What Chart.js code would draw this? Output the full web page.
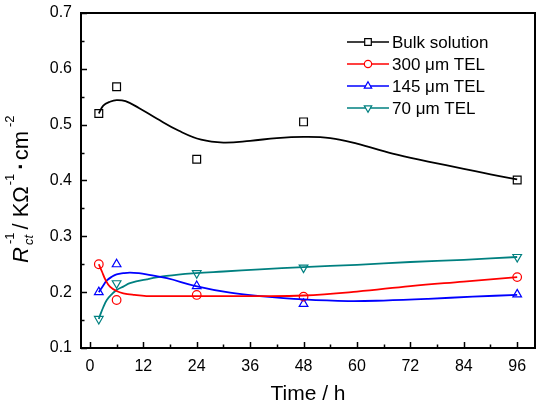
<!DOCTYPE html>
<html>
<head>
<meta charset="utf-8">
<script src="https://cdn.jsdelivr.net/npm/chart.js@4.4.0/dist/chart.umd.min.js"></script>
<style>
  html, body { margin: 0; padding: 0; background: #fff; }
  #wrap { width: 544px; height: 402px; }
</style>
</head>
<body>
<div id="wrap"><canvas id="chart"></canvas></div>
<script>
// measured points
var timeH      = [2, 6, 24, 48, 96];
var bulkVals   = [0.52, 0.568, 0.438, 0.505, 0.401];
var tel300Vals = [0.25, 0.186, 0.195, 0.192, 0.227];
var tel145Vals = [0.20, 0.25, 0.211, 0.179, 0.196];
var tel70Vals  = [0.152, 0.216, 0.234, 0.244, 0.263];

// fitted curves
var bulkFitX   = [2, 3, 4.5, 6, 8, 11, 15, 20, 25, 30, 36, 42, 48, 54, 60, 68, 76, 84, 90, 96];
var bulkFitY   = [0.52, 0.534, 0.541, 0.544, 0.542, 0.53, 0.511, 0.489, 0.473, 0.468, 0.471, 0.476, 0.478, 0.476, 0.466, 0.448, 0.434, 0.421, 0.411, 0.402];
var tel300FitX = [2, 2.7, 3.5, 4.5, 6, 7.5, 10, 12.7, 18, 24, 36, 48, 60, 72, 84, 96];
var tel300FitY = [0.25, 0.237, 0.222, 0.21, 0.202, 0.198, 0.195, 0.193, 0.193, 0.193, 0.193, 0.194, 0.201, 0.211, 0.219, 0.227];
var tel145FitX = [2, 3, 3.8, 5, 6, 7.5, 9, 11, 12.7, 17.3, 23.8, 31.5, 38.2, 48, 58, 66, 76, 86, 96];
var tel145FitY = [0.20, 0.212, 0.221, 0.228, 0.232, 0.234, 0.235, 0.234, 0.232, 0.225, 0.211, 0.199, 0.193, 0.187, 0.184, 0.185, 0.188, 0.192, 0.195];
var tel70FitX  = [2, 2.3, 3, 3.8, 5, 6, 7.5, 9, 12.8, 17.2, 23.8, 30, 38.2, 48, 60, 72, 84, 96];
var tel70FitY  = [0.152, 0.159, 0.173, 0.186, 0.197, 0.204, 0.21, 0.216, 0.223, 0.229, 0.234, 0.237, 0.241, 0.245, 0.249, 0.254, 0.258, 0.263];

var seriesNames  = ["Bulk solution", "300 \u03bcm TEL", "145 \u03bcm TEL", "70 \u03bcm TEL"];
var seriesColors = ["#000000", "#ff0000", "#0000ff", "#008080"];
var xTicks = [0, 12, 24, 36, 48, 60, 72, 84, 96];
var yTicks = [0.1, 0.2, 0.3, 0.4, 0.5, 0.6, 0.7];
var xTitle = "Time / h";

var markers = [
  { pointStyle: 'rect', radius: 5.5, rotation: 0 },
  { pointStyle: 'circle', radius: 4.3, rotation: 0 },
  { pointStyle: 'triangle', radius: 5, rotation: 0 },
  { pointStyle: 'triangle', radius: 5, rotation: 180 }
];

function toXY(xs, ys) {
  var out = [];
  for (var i = 0; i < xs.length; i++) out.push({ x: xs[i], y: ys[i] });
  return out;
}

var pointSets = [bulkVals, tel300Vals, tel145Vals, tel70Vals];
var fitSets = [[bulkFitX, bulkFitY], [tel300FitX, tel300FitY], [tel145FitX, tel145FitY], [tel70FitX, tel70FitY]];

var datasets = [];
for (var s = 0; s < 4; s++) {
  datasets.push({
    label: seriesNames[s] + " fit",
    data: toXY(fitSets[s][0], fitSets[s][1]),
    showLine: true,
    borderColor: seriesColors[s],
    borderWidth: 1.8,
    pointRadius: 0,
    tension: 0.4,
    fill: false
  });
}
for (var s = 0; s < 4; s++) {
  datasets.push({
    label: seriesNames[s],
    data: toXY(timeH, pointSets[s]),
    showLine: false,
    borderColor: seriesColors[s],
    backgroundColor: 'rgba(0,0,0,0)',
    pointStyle: markers[s].pointStyle,
    pointRadius: markers[s].radius,
    pointRotation: markers[s].rotation,
    pointBorderWidth: 1.2
  });
}

var FONT = "'Liberation Sans', Arial, sans-serif";

// frame, inward ticks, legend and axis titles
var decor = {
  id: 'decor',
  afterDraw: function(chart) {
    var ctx = chart.ctx, a = chart.chartArea;
    var xs = chart.scales.x, ys = chart.scales.y;
    ctx.save();
    ctx.strokeStyle = '#000';
    ctx.lineWidth = 1.5;
    ctx.beginPath();
    for (var v = 0; v <= 96; v += 6) {
      var px = Math.round(xs.getPixelForValue(v)) + 0.5;
      var len = (v % 12 === 0) ? 6 : 3.5;
      ctx.moveTo(px, a.bottom);
      ctx.lineTo(px, a.bottom - len);
    }
    for (var k = 1; k <= 13; k++) {
      var yv = k * 0.05 + 0.05;
      var py = Math.round(ys.getPixelForValue(yv)) + 0.5;
      var len2 = (k % 2 === 1) ? 6 : 3.5;
      ctx.moveTo(a.left, py);
      ctx.lineTo(a.left + len2, py);
    }
    ctx.stroke();
    ctx.lineWidth = 2;
    ctx.strokeRect(a.left, a.top, a.right - a.left, a.bottom - a.top);

    // legend
    ctx.font = '17px ' + FONT;
    ctx.textBaseline = 'middle';
    ctx.textAlign = 'left';
    for (var i = 0; i < 4; i++) {
      var ly = 42 + i * 22;
      ctx.strokeStyle = seriesColors[i];
      ctx.lineWidth = 1.5;
      ctx.beginPath();
      ctx.moveTo(347, ly);
      ctx.lineTo(389, ly);
      ctx.stroke();
      ctx.fillStyle = '#fff';
      ctx.lineWidth = 1.2;
      Chart.helpers.drawPoint(ctx, {
        pointStyle: markers[i].pointStyle,
        radius: markers[i].radius * 0.85,
        rotation: markers[i].rotation,
        borderWidth: 1.2
      }, 368, ly);
      ctx.fillStyle = '#000';
      ctx.fillText(seriesNames[i], 392, ly + 1);
    }

    // x title
    ctx.font = '21px ' + FONT;
    ctx.textAlign = 'center';
    ctx.textBaseline = 'alphabetic';
    ctx.fillText(xTitle, (a.left + a.right) / 2, 400);

    // y title: R_ct^-1 / KΩ^-1 · cm^-2
    ctx.translate(28, 263);
    ctx.rotate(-Math.PI / 2);
    ctx.textAlign = 'left';
    var t = 0;
    ctx.font = 'italic 22px ' + FONT;
    ctx.fillText('R', t, 0);
    t += ctx.measureText('R').width + 2;
    ctx.font = 'italic 13px ' + FONT;
    ctx.fillText('ct', t, 5);
    var ctW = ctx.measureText('ct').width;
    ctx.font = '13px ' + FONT;
    ctx.fillText('-1', t + 1, -14);
    var m1 = ctx.measureText('-1').width;
    t += Math.max(ctW, m1 + 1) + 3;
    ctx.font = '22px ' + FONT;
    ctx.fillText('/ K\u03a9', t, 0);
    t += ctx.measureText('/ K\u03a9').width + 1;
    ctx.font = '13px ' + FONT;
    ctx.fillText('-1', t, -14);
    t += ctx.measureText('-1').width + 4;
    ctx.font = 'bold 22px ' + FONT;
    ctx.fillText('\u00b7', t, 0);
    t += ctx.measureText('\u00b7').width + 2;
    ctx.font = '22px ' + FONT;
    ctx.fillText('cm', t, 0);
    t += ctx.measureText('cm').width + 4;
    ctx.font = '13px ' + FONT;
    ctx.fillText('-2', t, -14);
    ctx.restore();
  }
};

var ctx = document.getElementById('chart').getContext('2d');
var chart = new Chart(ctx, {
  type: 'scatter',
  data: { datasets: datasets },
  options: {
    responsive: true,
    maintainAspectRatio: false,
    animation: false,
    events: [],
    layout: { padding: { top: 13, right: 9, left: 0, bottom: 0 } },
    plugins: {
      legend: { display: false },
      tooltip: { enabled: false },
      title: { display: false }
    },
    scales: {
      x: {
        type: 'linear',
        min: -2,
        max: 100,
        afterBuildTicks: function(scale) {
          scale.ticks = xTicks.map(function(v) { return { value: v }; });
        },
        afterFit: function(scale) {
          scale.height = 54;
          scale.paddingLeft = 0;
          scale.paddingRight = 0;
        },
        grid: { display: false, drawTicks: false },
        border: { display: false },
        ticks: {
          padding: 9,
          color: '#000',
          font: { family: FONT, size: 16 },
          maxRotation: 0,
          callback: function(v) { return String(v); }
        }
      },
      y: {
        type: 'linear',
        min: 0.1,
        max: 0.7,
        afterBuildTicks: function(scale) {
          scale.ticks = yTicks.map(function(v) { return { value: v }; });
        },
        afterFit: function(scale) {
          scale.width = 81;
          scale.paddingTop = 0;
          scale.paddingBottom = 0;
        },
        grid: { display: false, drawTicks: false },
        border: { display: false },
        ticks: {
          padding: 9,
          color: '#000',
          font: { family: FONT, size: 16 },
          callback: function(v) { return v.toFixed(1); }
        }
      }
    }
  },
  plugins: [decor]
});
</script>
</body>
</html>
